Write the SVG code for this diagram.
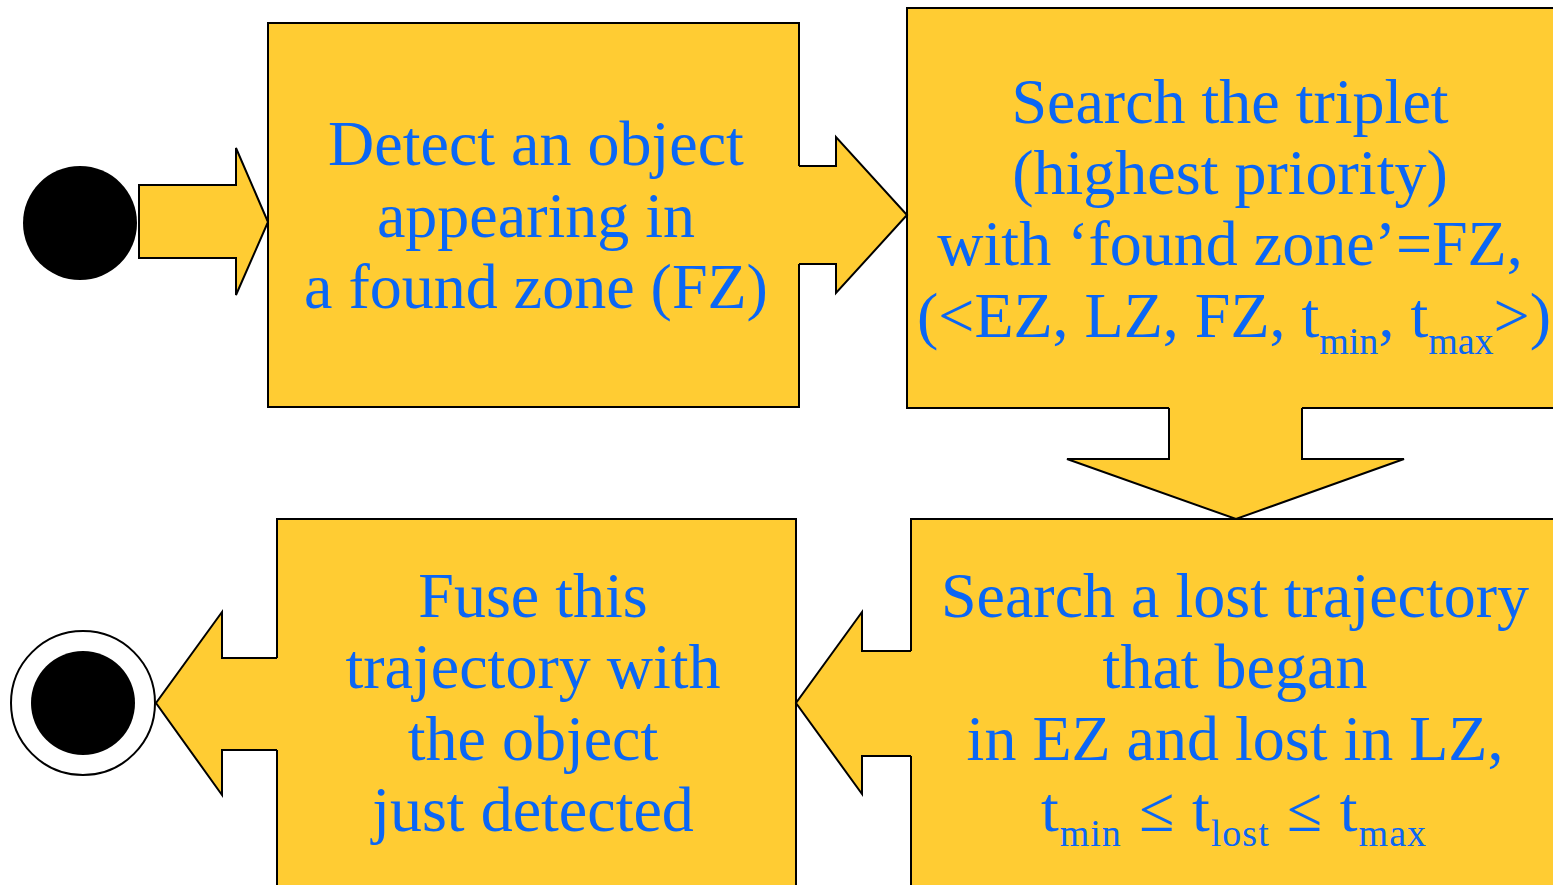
<svg xmlns="http://www.w3.org/2000/svg" width="1553" height="885" viewBox="0 0 1553 885">
<style>
.box{fill:#FFCC33;stroke:#000;stroke-width:2}
.af{fill:#FFCC33;stroke:none}
.as{fill:none;stroke:#000;stroke-width:2;stroke-linejoin:miter}
.t{font-family:"Liberation Serif","Times New Roman",serif;font-size:64px;fill:#0A66F5;text-anchor:middle}
.s{font-size:38px}
</style>
<rect width="1553" height="885" fill="#fff"/>
<g id="start"><circle cx="80" cy="223" r="57" fill="#000"/></g>
<g id="box1">
<rect class="box" x="268" y="23" width="531" height="384"/>
<text class="t" x="536" y="165">Detect an object</text>
<text class="t" x="536" y="237">appearing in</text>
<text class="t" x="536" y="308">a found zone (FZ)</text>
</g>
<g id="box2">
<rect class="box" x="907" y="8" width="660" height="400"/>
<text class="t" x="1230" y="123">Search the triplet</text>
<text class="t" x="1230" y="194">(highest priority)</text>
<text class="t" x="1230" y="265">with ‘found zone’=FZ,</text>
<text class="t" x="1234" y="337">(&lt;EZ, LZ, FZ, t<tspan class="s" dy="17">min</tspan><tspan dy="-17">, t</tspan><tspan class="s" dy="17">max</tspan><tspan dy="-17">&gt;)</tspan></text>
</g>
<g id="box3">
<rect class="box" x="911" y="519" width="660" height="380"/>
<text class="t" x="1235" y="617">Search a lost trajectory</text>
<text class="t" x="1235" y="688">that began</text>
<text class="t" x="1235" y="760">in EZ and lost in LZ,</text>
<text class="t" x="1234" y="831" letter-spacing="1">t<tspan class="s" dy="15">min</tspan><tspan dy="-15"> ≤ t</tspan><tspan class="s" dy="15">lost</tspan><tspan dy="-15"> ≤ t</tspan><tspan class="s" dy="15">max</tspan></text>
</g>
<g id="box4">
<rect class="box" x="277" y="519" width="519" height="380"/>
<text class="t" x="533" y="617">Fuse this</text>
<text class="t" x="533" y="688">trajectory with</text>
<text class="t" x="533" y="760">the object</text>
<text class="t" x="533" y="831">just detected</text>
</g>
<g id="end">
<circle cx="83" cy="703" r="72" fill="#fff" stroke="#000" stroke-width="2"/>
<circle cx="83" cy="703" r="52" fill="#000"/>
</g>
<g id="connectors">
<path class="box" d="M139,185 H236 V148 L268,222 L236,295 V258 H139 Z"/>
<path class="af" d="M796,166 H836 V137 L907,215 L836,293 V264 H796 Z"/>
<path class="as" d="M799,166 H836 V137 L907,215 L836,293 V264 H799"/>
<path class="af" d="M1169,406 V459 H1067 L1236,519 L1404,459 H1302 V406 Z"/>
<path class="as" d="M1169,408 V459 H1067 L1236,519 L1404,459 H1302 V408"/>
<path class="af" d="M914,651 H862 V612 L796,703 L862,794 V756 H914 Z"/>
<path class="as" d="M911,651 H862 V612 L796,703 L862,794 V756 H911"/>
<path class="af" d="M280,658 H222 V612 L156,703 L222,795 V750 H280 Z"/>
<path class="as" d="M277,658 H222 V612 L156,703 L222,795 V750 H277"/>
</g>
</svg>
